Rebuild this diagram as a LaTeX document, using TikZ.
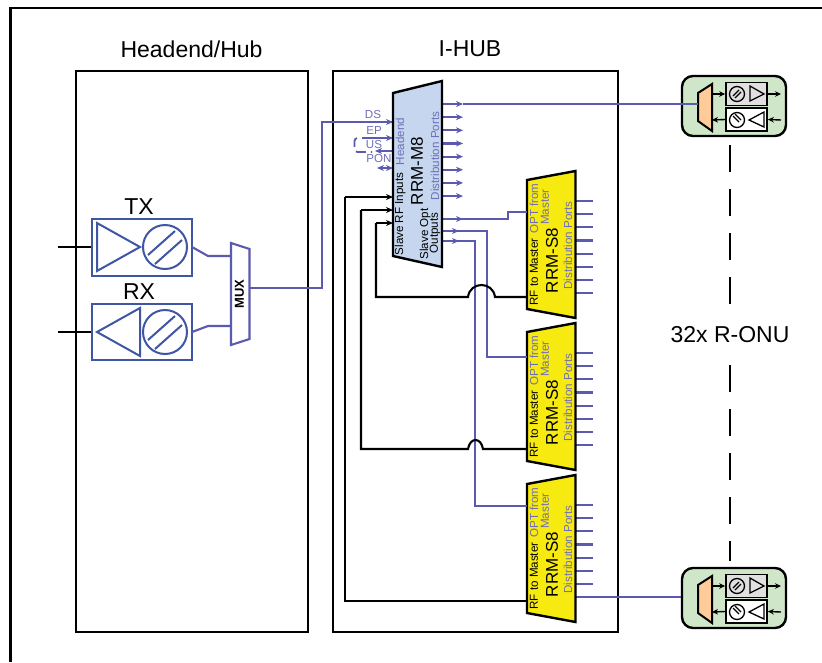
\documentclass[tikz,border=0pt]{standalone}
\usepackage{fontspec}
\setmainfont{Liberation Sans}
\usetikzlibrary{arrows.meta}
\definecolor{wire}{HTML}{5A5AAE}
\definecolor{lbl}{HTML}{6F6FB8}
\definecolor{tbox}{HTML}{3F56A4}
\definecolor{mfill}{HTML}{C5D6EE}
\definecolor{sfill}{HTML}{F7EA10}
\definecolor{ofill}{HTML}{CFE6C8}
\definecolor{gfill}{HTML}{E0E0E0}
\definecolor{mxfill}{HTML}{FFCC99}
\tikzset{
 x=1pt,y=-1pt,
 box/.style={draw=black,line width=2.4pt,fill=white},
 bwire/.style={draw=wire,line width=2.2pt},
 kwire/.style={draw=black,line width=2.1pt},
 tip/.style={-{Stealth[length=7pt,width=6pt]}},
 dtip/.style={{Stealth[length=7pt,width=6pt]}-{Stealth[length=7pt,width=6pt]}},
 small/.style={inner sep=0pt,font=\fontsize{11.6}{12}\selectfont,rotate=90,align=center},
 big/.style={inner sep=0pt,font=\fontsize{17}{19}\selectfont,rotate=90},
 head/.style={inner sep=0pt,font=\fontsize{23}{26}\selectfont},
 sig/.style={inner sep=0pt,font=\fontsize{11.6}{13}\selectfont,text=lbl},
 trx/.style={draw=tbox,line width=2pt,fill=white,rectangle,inner sep=0pt,minimum width=100pt},
 tline/.style={draw=tbox,line width=2pt},
 muxline/.style={draw=wire,line width=2.1pt,fill=white},
 tiny/.style={-{Stealth[length=6pt,width=5.5pt]},line width=1.4pt},
 pics/onu/.style n args={0}{code={
  \node[draw=black,line width=2.4pt,fill=ofill,rounded corners=11pt,minimum width=104pt,minimum height=60pt,inner sep=0pt] (-frame) at (0,0) {};
  \node[draw=black,line width=1.7pt,fill=gfill,minimum width=41pt,minimum height=23pt,inner sep=0pt] (-up) at (12.5,-12) {};
  \node[draw=black,line width=1.7pt,fill=white,minimum width=41pt,minimum height=23pt,inner sep=0pt] (-lo) at (12.5,13.5) {};
  \draw[line width=2pt,fill=mxfill] (-36,-13) -- (-22,-22) -- (-22,25) -- (-36,15) -- cycle;
  \draw[tiny] (-22,-12) -- (-up.west);
  \draw[tiny] (-lo.west) -- (-22,14);
  \draw[tiny] (-up.east) -- (47,-12);
  \draw[tiny] (47,14) -- (-lo.east);
  \draw[line width=1.3pt] (3,-12) circle (7.5);
  \draw[line width=1.2pt] (-1,-10) -- (5,-16) (1,-8) -- (7,-14);
  \draw[line width=1.3pt] (16,-20) -- (16,-5) -- (30,-12) -- cycle;
  \draw[line width=1.3pt] (3,14) circle (7.5);
  \draw[line width=1.2pt] (-1,10) -- (5,16) (1,8) -- (7,14);
  \draw[line width=1.3pt] (30,6) -- (30,21) -- (15,14) -- cycle;
 }},
}
\newcommand{\rrms}[2]{%
 \begin{scope}[yshift=-#2pt]
  \coordinate (#1tl) at (527,180); \coordinate (#1tr) at (575.5,171);
  \coordinate (#1br) at (575.5,318); \coordinate (#1bl) at (527,309);
  \coordinate (#1rf) at (527,297);
  \foreach \k in {0,...,7} {
   \coordinate (#1p\k) at (575,{201+13.15*\k});
   \coordinate (#1e\k) at (593,{201+13.15*\k});
  }
 \end{scope}
 \foreach \k in {0,...,7} { \draw[bwire] (#1p\k) -- (#1e\k); }
 \draw[box,fill=sfill] (#1tl) -- (#1tr) -- (#1br) -- (#1bl) -- cycle;
 \begin{scope}[yshift=-#2pt]
  \node[small] (#1a) at (534,272) {RF to Master};
  \node[small,text=lbl] (#1b) at (534,208.5) {OPT from};
  \node[small,text=lbl] (#1c) at (545,207) {Master};
  \node[big] (#1d) at (552,260.5) {RRM-S8};
  \node[small,text=lbl] (#1f) at (568,245.5) {Distribution Ports};
 \end{scope}
}
\begin{document}
\begin{tikzpicture}
\useasboundingbox (0,0) rectangle (822,662);
\draw[line width=2.6pt] (10.5,662) -- (10.5,8) -- (822,8);
\node[box,minimum width=232pt,minimum height=561pt,inner sep=0pt] (hub) at (192,351.5) {};
\node[box,minimum width=285pt,minimum height=561pt,inner sep=0pt] (ihub) at (475.5,351.5) {};
\node[head] (hubt) at (191.5,49) {Headend/Hub};
\node[head] (ihubt) at (470,49) {I-HUB};
% TX / RX
\node[trx,minimum height=57pt] (tx) at (142,247.5) {};
\node[trx,minimum height=56pt] (rx) at (142,331.5) {};
\node[head] (txt) at (139,207) {TX};
\node[head] (rxt) at (139,292) {RX};
\draw[tline] (97,223) -- (97,271) -- (140,247) -- cycle;
\draw[tline] (165,247) circle (22);
\draw[tline] (148,255) -- (175,231) (155,264) -- (182,240);
\draw[tline] (97,332) -- (140,308) -- (140,356) -- cycle;
\draw[tline] (165,332) circle (22);
\draw[tline] (148,340) -- (175,316) (155,349) -- (182,325);
\coordinate (txin) at (58,247); \coordinate (rxin) at (58,332);
\draw[line width=2pt] (txin) -- (tx.west |- txin);
\draw[line width=2pt] (rxin) -- (rx.west |- rxin);
% MUX
\coordinate (mxa) at (231,243); \coordinate (mxb) at (249.5,249);
\coordinate (mxc) at (249.5,339); \coordinate (mxd) at (231,345);
\coordinate (mxo) at (249.5,288);
\coordinate (mxi) at (231,256); \coordinate (mxj) at (231,326);
\coordinate (txo) at (192,247); \coordinate (rxo) at (192,332);
\draw[muxline] (txo) -- (208,256) -- (mxi);
\draw[muxline] (rxo) -- (208,326) -- (mxj);
\draw[muxline] (mxa) -- (mxb) -- (mxc) -- (mxd) -- cycle;
\node[inner sep=0pt,rotate=90,font=\fontsize{13}{15}\selectfont\bfseries] (mxt) at (239.5,294) {MUX};
% M8 coordinates
\coordinate (mtl) at (393,93); \coordinate (mtr) at (442,81);
\coordinate (mbr) at (442,267); \coordinate (mbl) at (393,256);
\foreach \k in {0,...,7} {
 \coordinate (mp\k) at (442,{104+13.15*\k});
 \coordinate (me\k) at (463,{104+13.15*\k});
 \draw[bwire,tip] (mp\k) -- (me\k);
}
\coordinate (ds) at (393,122); \coordinate (ep) at (393,138);
\coordinate (us) at (393,151); \coordinate (pon) at (393,168);
\coordinate (dsb) at (322,288);
\coordinate (epe) at (370,138); \coordinate (use) at (375,151); \coordinate (pone) at (377,168);
\coordinate (ra) at (393,197); \coordinate (rb) at (393,210); \coordinate (rc) at (393,223);
\coordinate (oa) at (442,219); \coordinate (ob) at (442,231); \coordinate (oc) at (442,241);
% Slaves
\rrms{sa}{0}
\rrms{sb}{152}
\rrms{sc}{304}
\coordinate (ia) at (527,212); \coordinate (ib) at (527,357); \coordinate (ic) at (527,506);
% blue feeders
\draw[bwire] (mxo) -- (dsb) -- (dsb |- ds) -- (ds);
\draw[bwire,tip] (dsb |- ds) -- (ds);
\draw[bwire,tip] (epe) -- (ep);
\draw[bwire,tip] (us) -- (use);
\draw[bwire,dtip] (pon) -- (pone);
\draw[draw=wire,line width=1.8pt,dash pattern=on 10pt off 5pt,rounded corners=3pt] (372,138) -- (354.5,138) -- (354.5,152) -- (372,152);
\draw[bwire] (oa) -- (508,219) -- (508,212) -- (ia);
\draw[bwire] (ob) -- (487,231) -- (487,357) -- (ib);
\draw[bwire] (oc) -- (475,241) -- (475,506) -- (ic);
\draw[bwire,tip] (oa) -- (463,219);
\draw[bwire,tip] (ob) -- (459,231);
\draw[bwire,tip] (oc) -- (459,241);
% black RF returns
\draw[kwire,tip] (345,197) -- (ra);
\draw[kwire,tip] (361,210) -- (rb);
\draw[kwire,tip] (376,223) -- (rc);
\draw[kwire] (345,197) -- (345,601) -- (scrf);
\draw[kwire] (361,210) -- (361,449) -- (468,449) .. controls (470,437) and (481,437) .. (483,449) -- (sbrf);
\draw[kwire] (376,223) -- (376,297) -- (468,297) .. controls (470,281) and (493,281) .. (495,297) -- (sarf);
% M8 body
\draw[box,fill=mfill] (mtl) -- (mtr) -- (mbr) -- (mbl) -- cycle;
\node[small,text=lbl] (mh) at (400,141.5) {Headend};
\node[small] (ms) at (400,214) {Slave RF Inputs};
\node[big] (mn) at (417,171) {RRM-M8};
\node[small,text=lbl] (md) at (435,156) {Distribution Ports};
\node[small] (mo1) at (425,234) {Slave Opt};
\node[small] (mo2) at (435,233) {Outputs};
\node[sig] (tds) at (373,115) {DS};
\node[sig] (tep) at (374,131) {EP};
\node[sig] (tus) at (374,145) {US};
\node[sig] (tpon) at (379,159) {PON};
% ONUs
\pic (ona) at (734,106) {onu};
\pic (onb) at (734,598) {onu};
\draw[bwire] (me0) -- (698,104);
\draw[bwire] (sce7) -- (onb-frame.west |- sce7);
% dashed column
\coordinate (da) at (730,145); \coordinate (db) at (730,304);
\coordinate (dc) at (730,365); \coordinate (dd) at (730,561);
\draw[line width=2pt,dash pattern=on 27pt off 17pt] (da) -- (db);
\draw[line width=2pt,dash pattern=on 27pt off 17pt] (dc) -- (dd);
\node[head] (rt) at (730,335) {32x R-ONU};
\end{tikzpicture}
\end{document}
